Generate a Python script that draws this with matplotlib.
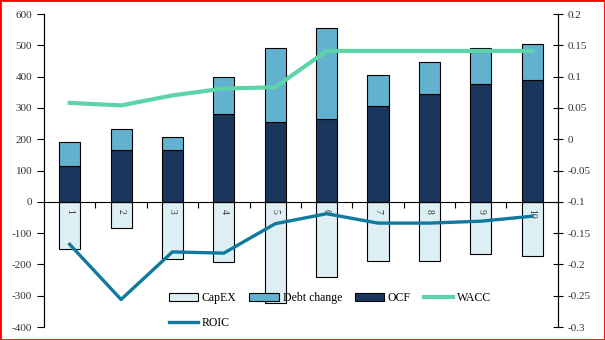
import numpy as np
import matplotlib
matplotlib.use('Agg')
import matplotlib.pyplot as plt
from matplotlib.patches import Rectangle

plt.rcParams['font.family'] = ['Liberation Serif', 'DejaVu Serif']
plt.rcParams['axes.unicode_minus'] = False

# data
periods = ['1', '2', '3', '4', '5', '6', '7', '8', '9', '10']
ocf = [113, 167, 167, 279, 256, 266, 307, 343, 375, 388]
debt_change = [79, 67, 39, 121, 234, 288, 97, 105, 115, 116]
capex = [-150, -83, -183, -192, -323, -240, -189, -189, -167, -173]
wacc = [0.058, 0.054, 0.070, 0.081, 0.083, 0.141, 0.141, 0.141, 0.141, 0.141]
roic = [-0.168, -0.256, -0.180, -0.182, -0.135, -0.119, -0.134, -0.134, -0.131, -0.123]

c_capex = '#ddeff3'
c_debt = '#62b2cf'
c_ocf = '#1a365d'
c_wacc = '#5dd4a8'
c_roic = '#0f7a9e'

fig = plt.figure(figsize=(6.05, 3.4), dpi=100)
ax = fig.add_axes([0.0727, 0.0382, 0.8493, 0.9206])
ax2 = ax.twinx()

x = np.arange(len(periods)) + 0.5
w = 0.41
ax.bar(x, capex, w, color=c_capex, edgecolor='black', linewidth=0.8, label='CapEX')
ax.bar(x, ocf, w, color=c_ocf, edgecolor='black', linewidth=0.8, label='OCF')
ax.bar(x, debt_change, w, bottom=ocf, color=c_debt, edgecolor='black', linewidth=0.8,
       label='Debt change')

ax2.plot(x, wacc, color=c_wacc, linewidth=3, label='WACC')
ax2.plot(x, roic, color=c_roic, linewidth=2.4, label='ROIC')

ax.set_xlim(0, len(periods))
ax.set_ylim(-400, 600)
ax.set_yticks(np.arange(-400, 601, 100))
rticks = np.arange(-0.3, 0.2001, 0.05)
ax2.set_ylim(-0.3, 0.2)
ax2.set_yticks(rticks)
ax2.set_yticklabels(['%g' % (round(v, 2) + 0.0) for v in rticks])

# category axis sits on zero, labels just under it
ax.spines['bottom'].set_position(('data', 0))
ax.spines['top'].set_visible(False)
ax2.spines['top'].set_visible(False)
ax2.spines['bottom'].set_visible(False)
ax.set_xticks(np.arange(1, len(periods)))
ax.set_xticks(x, minor=True)
ax.set_xticklabels([], minor=False)
ax.set_xticklabels(periods, minor=True, rotation=-90, fontsize=7, color='#333333')
ax.tick_params(axis='x', which='major', direction='out', length=4, width=0.8)
ax.tick_params(axis='x', which='minor', length=0, pad=5)
ax.tick_params(axis='y', direction='out', length=5, labelsize=8, labelcolor='#333333')
ax2.tick_params(axis='y', direction='inout', length=7, labelsize=8, labelcolor='#333333')
for a in (ax, ax2):
    for s in a.spines.values():
        s.set_linewidth(0.8)

h1, l1 = ax.get_legend_handles_labels()
h2, l2 = ax2.get_legend_handles_labels()
# legend fills column by column: CapEX/ROIC, Debt change, OCF, WACC
handles = [h1[0], h2[1], h1[2], h1[1], h2[0]]
labels = [l1[0], l2[1], l1[2], l1[1], l2[0]]
fig.legend(handles, labels, ncol=4, loc='upper left', bbox_to_anchor=(0.271, 0.155),
           frameon=False, fontsize=8.5, handlelength=2.5, handleheight=0.7,
           handletextpad=0.3, columnspacing=1.1, labelspacing=1.1, borderaxespad=0)

fig.patches.append(Rectangle((0, 0), 1, 1, transform=fig.transFigure, fill=False,
                             edgecolor='red', linewidth=2))

fig.savefig('out.png', dpi=100)
